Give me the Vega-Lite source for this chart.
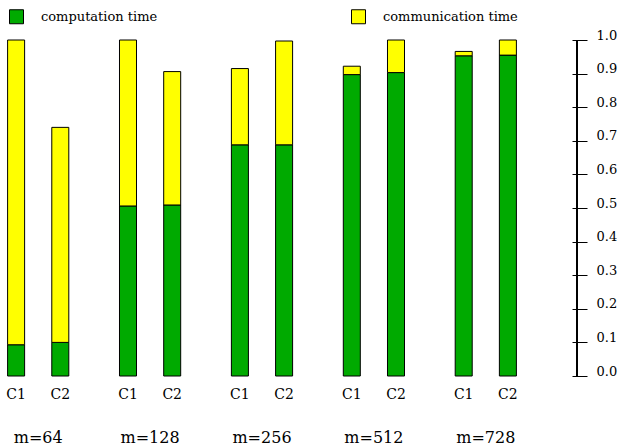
{
  "$schema": "https://vega.github.io/schema/vega-lite/v6.json",
  "autosize": "none",
  "width": 577,
  "height": 336,
  "padding": {"left": 0, "top": 40, "right": 45, "bottom": 71},
  "background": "white",
  "config": {
    "view": {"stroke": null},
    "font": "DejaVu Serif",
    "text": {"font": "DejaVu Serif"},
    "axis": {"labelFont": "DejaVu Serif", "labelColor": "black", "grid": false, "labelOverlap": false},
    "legend": {"labelFont": "DejaVu Serif"}
  },
  "data": {
    "values": [
      {"m": "m=64", "cfg": "C1", "type": "computation time", "value": 0.093},
      {"m": "m=64", "cfg": "C1", "type": "communication time", "value": 0.907},
      {"m": "m=64", "cfg": "C2", "type": "computation time", "value": 0.1},
      {"m": "m=64", "cfg": "C2", "type": "communication time", "value": 0.64},
      {"m": "m=128", "cfg": "C1", "type": "computation time", "value": 0.506},
      {"m": "m=128", "cfg": "C1", "type": "communication time", "value": 0.494},
      {"m": "m=128", "cfg": "C2", "type": "computation time", "value": 0.509},
      {"m": "m=128", "cfg": "C2", "type": "communication time", "value": 0.397},
      {"m": "m=256", "cfg": "C1", "type": "computation time", "value": 0.688},
      {"m": "m=256", "cfg": "C1", "type": "communication time", "value": 0.227},
      {"m": "m=256", "cfg": "C2", "type": "computation time", "value": 0.688},
      {"m": "m=256", "cfg": "C2", "type": "communication time", "value": 0.309},
      {"m": "m=512", "cfg": "C1", "type": "computation time", "value": 0.897},
      {"m": "m=512", "cfg": "C1", "type": "communication time", "value": 0.025},
      {"m": "m=512", "cfg": "C2", "type": "computation time", "value": 0.903},
      {"m": "m=512", "cfg": "C2", "type": "communication time", "value": 0.097},
      {"m": "m=728", "cfg": "C1", "type": "computation time", "value": 0.953},
      {"m": "m=728", "cfg": "C1", "type": "communication time", "value": 0.013},
      {"m": "m=728", "cfg": "C2", "type": "computation time", "value": 0.955},
      {"m": "m=728", "cfg": "C2", "type": "communication time", "value": 0.045}
    ]
  },
  "encoding": {
    "x": {
      "field": "m", "type": "nominal", "sort": null,
      "scale": {"range": [-6, 530], "paddingInner": 0.21, "paddingOuter": 0},
      "axis": {"orient": "bottom", "title": null, "domain": false, "ticks": false, "labelAngle": 0, "labelFontSize": 16, "labelPadding": 53, "labelBaseline": "top",
               "labelFont": "DejaVu Serif", "labelColor": "black"}
    },
    "xOffset": {
      "field": "cfg", "type": "nominal", "sort": null,
      "scale": {"paddingInner": 0.615, "paddingOuter": 0.3077}
    },
    "y": {
      "type": "quantitative",
      "scale": {"domain": [0, 1], "nice": false, "zero": true},
      "axis": {"orient": "right", "title": null, "domain": false, "offset": -5, "tickSize": 15, "tickColor": "black", "tickWidth": 1,
               "values": [0, 0.1, 0.2, 0.3, 0.4, 0.5, 0.6, 0.7, 0.8, 0.9, 1.0], "format": ".1f", "labelFontSize": 13, "labelPadding": 9, "labelOffset": -5,
               "labelOverlap": false, "labelFont": "DejaVu Serif", "labelColor": "black"}
    }
  },
  "layer": [
    {
      "mark": {"type": "bar", "stroke": "black", "strokeWidth": 1},
      "encoding": {
        "y": {
          "field": "value", "type": "quantitative", "stack": "zero",
          "scale": {"domain": [0, 1], "nice": false, "zero": true},
          "axis": {"orient": "right", "title": null, "domain": false, "offset": -5, "tickSize": 15, "tickColor": "black", "tickWidth": 1,
                   "values": [0, 0.1, 0.2, 0.3, 0.4, 0.5, 0.6, 0.7, 0.8, 0.9, 1.0], "format": ".1f", "labelFontSize": 13, "labelPadding": 9, "labelOffset": -5,
                   "labelOverlap": false, "labelFont": "DejaVu Serif", "labelColor": "black"}
        },
        "color": {
          "field": "type", "type": "nominal",
          "scale": {"domain": ["computation time", "communication time"], "range": ["#00aa00", "#ffff00"]},
          "legend": {"title": null, "orient": "none", "legendX": 9, "legendY": -31, "direction": "horizontal", "columns": 2, "columnPadding": 191,
                     "padding": 0, "symbolType": "square", "symbolSize": 196, "symbolStrokeColor": "black", "symbolStrokeWidth": 1,
                     "labelFont": "DejaVu Serif", "labelFontSize": 13, "labelColor": "black", "labelOffset": 17}
        },
        "order": {"field": "type", "sort": "descending"}
      }
    },
    {
      "transform": [{"filter": "datum.type === 'computation time'"}],
      "mark": {"type": "text", "fontSize": 14, "baseline": "middle", "align": "center", "color": "black", "font": "DejaVu Serif"},
      "encoding": {
        "y": {"datum": -0.058, "type": "quantitative"},
        "text": {"field": "cfg"}
      }
    },
    {
      "mark": {"type": "rule", "color": "black", "strokeWidth": 1},
      "encoding": {"x": {"value": "width"}, "xOffset": null}
    }
  ]
}
